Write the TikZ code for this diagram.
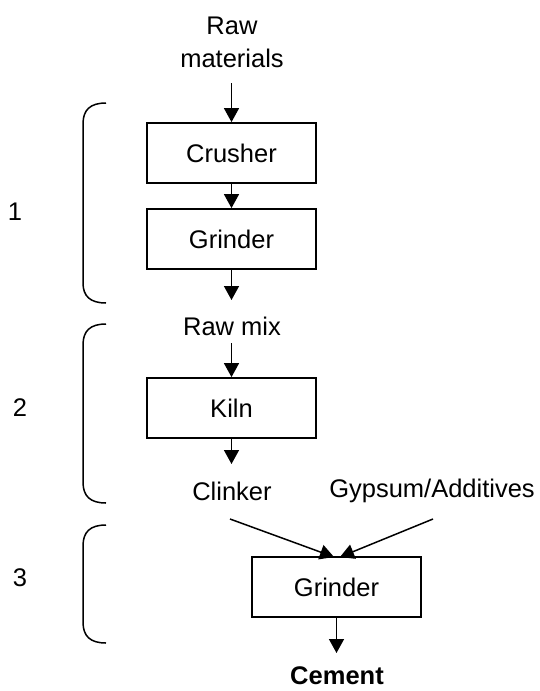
\documentclass[tikz,border=0pt]{standalone}
\usepackage{fontspec}
\setmainfont{Liberation Sans}
\usetikzlibrary{arrows.meta}
\begin{document}
\begin{tikzpicture}[x=1pt,y=-1pt,
  every node/.style={font=\fontsize{25.5}{33}\selectfont, inner sep=0pt, align=center},
  unit/.style={draw, line width=1.8pt, minimum width=169pt, minimum height=60pt},
  flow/.style={line width=1.5pt, -{Triangle[length=14pt,width=15pt]}},
  bracket/.style={line width=1.5pt},
  stage/.style={anchor=center}]
  \useasboundingbox (0,0) rectangle (540,691);

  % process units
  \node[unit] (crusher) at (231.5,153) {Crusher};
  \node[unit] (grinder1) at (231.5,239) {Grinder};
  \node[unit] (kiln) at (231.5,408) {Kiln};
  \node[unit] (grinder2) at (336.5,587) {Grinder};

  % material labels
  \node (raw) at (232,42) {Raw\\materials};
  \node (rawmix) at (232,326) {Raw mix};
  \node (clinker) at (232,491) {Clinker};
  \node (gypsum) at (432,491) {Gypsum/Additives};
  \node[font=\fontsize{25.5}{33}\selectfont\bfseries, align=none, anchor=base] (cement) at (337,684) {Cement};

  % connector ends
  \coordinate (g1out) at (231.5,300);
  \coordinate (kout) at (231.5,464);
  \coordinate (cin) at (230,519);
  \coordinate (gin) at (433,519);
  \coordinate (gtip1) at (334,557);
  \coordinate (gtip2) at (340,557);
  \coordinate (g2out) at (336.5,653);

  % flow arrows
  \draw[flow] (231.5,83) -- (crusher.north);
  \draw[flow] (crusher.south) -- (grinder1.north);
  \draw[flow] (grinder1.south) -- (g1out);
  \draw[flow] (231.5,343) -- (kiln.north);
  \draw[flow] (kiln.south) -- (kout);
  \draw[flow] (cin) -- (gtip1);
  \draw[flow] (gin) -- (gtip2);
  \draw[flow] (grinder2.south) -- (g2out);

  % stage brackets
  \draw[bracket] (106,103) .. controls (90,103) and (83,110) .. (83,124) -- (83,283) .. controls (83,296) and (90,303) .. (106,303);
  \draw[bracket] (106,324) .. controls (90,324) and (83,331) .. (83,345) -- (83,482) .. controls (83,496) and (90,503) .. (106,503);
  \draw[bracket] (106,525) .. controls (90,525) and (83,532) .. (83,546) -- (83,622) .. controls (83,636) and (90,643) .. (106,643);

  % stage numbers
  \node[stage] (s1) at (15,212) {1};
  \node[stage] (s2) at (20,408) {2};
  \node[stage] (s3) at (20,578) {3};
\end{tikzpicture}
\end{document}
